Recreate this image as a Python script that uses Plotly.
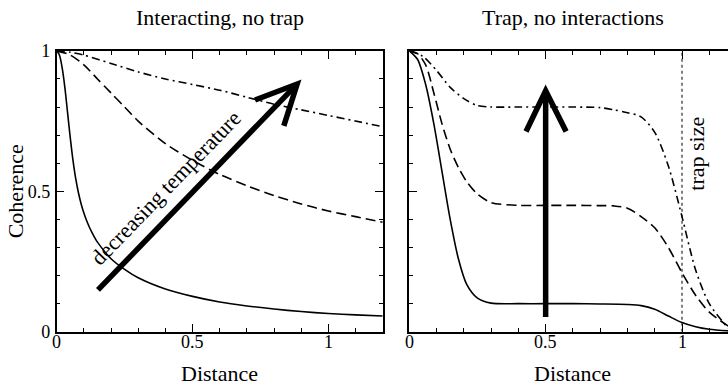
import plotly.graph_objects as go

# ---------------- data ----------------
# Left panel: interacting, no trap
left_solid_x = [0, 0.01, 0.02, 0.03, 0.04, 0.05, 0.06, 0.07, 0.08, 0.09, 0.1, 0.11, 0.12, 0.13, 0.14, 0.15,
                0.2, 0.25, 0.3, 0.4, 0.5, 0.6, 0.7, 0.8, 0.9, 1.0, 1.1, 1.2]
left_solid_y = [1, 0.985, 0.94, 0.87, 0.78, 0.69, 0.61, 0.545, 0.495, 0.455, 0.423, 0.396, 0.373, 0.353, 0.335, 0.319,
                0.26, 0.222, 0.192, 0.152, 0.126, 0.106, 0.092, 0.081, 0.072, 0.065, 0.06, 0.056]
left_dash_x = [0, 0.05, 0.1, 0.15, 0.2, 0.25, 0.3, 0.4, 0.5, 0.6, 0.7, 0.8, 0.9, 1.0, 1.1, 1.2]
left_dash_y = [1, 0.985, 0.95, 0.90, 0.85, 0.80, 0.75, 0.67, 0.61, 0.56, 0.52, 0.485, 0.455, 0.43, 0.41, 0.39]
left_dashdot_x = [0, 0.05, 0.1, 0.2, 0.3, 0.4, 0.5, 0.6, 0.7, 0.8, 0.9, 1.0, 1.1, 1.2]
left_dashdot_y = [1, 0.995, 0.985, 0.955, 0.925, 0.90, 0.88, 0.86, 0.835, 0.81, 0.79, 0.77, 0.75, 0.73]

# Right panel: trap, no interactions
right_solid_x = [0, 0.03, 0.06, 0.09, 0.12, 0.15, 0.18, 0.21, 0.25, 0.3, 0.4, 0.5, 0.6, 0.7, 0.8,
                 0.85, 0.9, 0.95, 1.0, 1.05, 1.1, 1.17]
right_solid_y = [1, 0.97, 0.88, 0.74, 0.57, 0.40, 0.26, 0.17, 0.12, 0.102, 0.1, 0.1, 0.1, 0.099, 0.097,
                 0.093, 0.08, 0.056, 0.033, 0.018, 0.009, 0.003]
right_dash_x = [0, 0.03, 0.06, 0.09, 0.12, 0.15, 0.18, 0.21, 0.25, 0.3, 0.4, 0.5, 0.6, 0.7, 0.75,
                0.8, 0.85, 0.9, 0.95, 1.0, 1.05, 1.1, 1.17]
right_dash_y = [1, 0.99, 0.95, 0.85, 0.74, 0.65, 0.585, 0.535, 0.49, 0.46, 0.45, 0.45, 0.45, 0.449, 0.448,
                0.44, 0.41, 0.37, 0.30, 0.21, 0.13, 0.07, 0.02]
right_dashdot_x = [0, 0.05, 0.1, 0.15, 0.2, 0.25, 0.3, 0.4, 0.5, 0.6, 0.7, 0.75, 0.8, 0.85, 0.9,
                   0.95, 1.0, 1.05, 1.1, 1.17]
right_dashdot_y = [1, 0.98, 0.93, 0.87, 0.83, 0.805, 0.80, 0.80, 0.80, 0.80, 0.798, 0.79, 0.78, 0.765, 0.71,
                   0.59, 0.41, 0.22, 0.10, 0.012]

trap_size = 1.0
x_tick_vals = [0, 0.5, 1]
x_tick_text = ["0", "0.5", "1"]
panel_titles = ["Interacting, no trap", "Trap, no interactions"]
x_title = "Distance"
y_title = "Coherence"

# ---------------- figure ----------------
W, H = 728, 389
FONT = "Liberation Serif"


def pyv(y_target):
    """paper fraction for a wanted vertical pixel position in the photographed page"""
    return 1 - ((y_target - 8) / 0.959) / H


fig = go.Figure()


def add_curve(x, y, dash, xa, ya):
    fig.add_trace(go.Scatter(
        x=x, y=y, mode="lines", xaxis=xa, yaxis=ya,
        line=dict(color="black", width=1.6, dash=dash, shape="spline", smoothing=0.8),
        showlegend=False, hoverinfo="skip"))


DASH = "10px,5px"
DASHDOT = "8px,4px,2px,4px"
add_curve(left_solid_x, left_solid_y, "solid", "x", "y")
add_curve(left_dash_x, left_dash_y, DASH, "x", "y")
add_curve(left_dashdot_x, left_dashdot_y, DASHDOT, "x", "y")
add_curve(right_solid_x, right_solid_y, "solid", "x2", "y2")
add_curve(right_dash_x, right_dash_y, DASH, "x2", "y2")
add_curve(right_dashdot_x, right_dashdot_y, DASHDOT, "x2", "y2")

# geometry (pixels -> paper)
lx0, lx1 = 56.7 / W, 382.7 / W
rx0, rx1 = 409.3 / W, 1.0
yb, yt = pyv(333.3), pyv(49.3)
right_max = (728 - 409.3) / 272.7


def axis_common(show_labels):
    return dict(
        showline=True, linewidth=1.5, linecolor="black",
        ticks="inside", ticklen=8, tickwidth=1, tickcolor="black",
        showgrid=False, zeroline=False, showticklabels=show_labels,
        tickfont=dict(family=FONT, size=18, color="black"),
        tick0=0, dtick=0.5, ticklabelstandoff=1,
        minor=dict(ticks="inside", ticklen=4, tickwidth=1, tickcolor="black",
                   tickmode="linear", tick0=0, dtick=0.1, showgrid=False),
    )


fig.update_layout(
    width=W, height=H,
    margin=dict(l=0, r=0, t=0, b=0),
    paper_bgcolor="white", plot_bgcolor="white",
    font=dict(family=FONT, color="black"),
    xaxis=dict(domain=[lx0, lx1], range=[0, 1.2], anchor="y", mirror="ticks", **axis_common(False)),
    yaxis=dict(domain=[yb, yt], range=[0, 1], anchor="x", mirror="ticks", **axis_common(True)),
    xaxis2=dict(domain=[rx0, rx1], range=[0, right_max], anchor="y2", mirror="ticks", **axis_common(False)),
    yaxis2=dict(domain=[yb, yt], range=[0, 1], anchor="x2", mirror=False, **axis_common(False)),
)

shapes = []
# trap size marker
shapes.append(dict(type="line", xref="x2", yref="y2", x0=trap_size, x1=trap_size, y0=0, y1=1,
                   line=dict(color="black", width=1, dash="dot")))
# left arrow (decreasing temperature)
AW = 5.5
shapes.append(dict(type="line", xref="x", yref="y", x0=0.152, y0=0.149, x1=0.882, y1=0.879,
                   line=dict(color="black", width=AW)))
shapes.append(dict(type="path", xref="x", yref="y",
                   path="M 0.73,0.825 L 0.885,0.882 L 0.836,0.733",
                   line=dict(color="black", width=AW)))
# right arrow
shapes.append(dict(type="line", xref="x2", yref="y2", x0=0.5, y0=0.053, x1=0.5, y1=0.85,
                   line=dict(color="black", width=AW)))
shapes.append(dict(type="path", xref="x2", yref="y2",
                   path="M 0.428,0.713 L 0.5,0.858 L 0.575,0.713",
                   line=dict(color="black", width=AW)))
fig.update_layout(shapes=shapes)

TF = dict(family=FONT, size=22, color="black")
TKF = dict(family=FONT, size=18, color="black")
ann = []
# x tick labels for both panels
for xa in ["x", "x2"]:
    for v, t in zip(x_tick_vals, x_tick_text):
        ann.append(dict(text=t, xref=xa, yref="paper", x=v, y=pyv(344),
                        showarrow=False, font=TKF, xanchor="center", yanchor="middle"))
ann.append(dict(text=panel_titles[0], xref="x", yref="paper", x=0.6, y=1 - 8 / H,
                showarrow=False, font=TF, xanchor="center", yanchor="middle"))
ann.append(dict(text=panel_titles[1], xref="x2", yref="paper", x=0.6, y=1 - 8 / H,
                showarrow=False, font=TF, xanchor="center", yanchor="middle"))
ann.append(dict(text=x_title, xref="x", yref="paper", x=0.6, y=pyv(375),
                showarrow=False, font=TF, xanchor="center", yanchor="middle"))
ann.append(dict(text=x_title, xref="x2", yref="paper", x=0.6, y=pyv(375),
                showarrow=False, font=TF, xanchor="center", yanchor="middle"))
ann.append(dict(text=y_title, xref="paper", yref="y", x=15 / W, y=0.5, textangle=-90,
                showarrow=False, font=TF, xanchor="center", yanchor="middle"))
ann.append(dict(text="decreasing temperature", xref="x", yref="y", x=0.402, y=0.515, textangle=-46,
                showarrow=False, font=TF, xanchor="center", yanchor="middle"))
ann.append(dict(text="trap size", xref="x2", yref="y2", x=1.055, y=0.634, textangle=-90,
                showarrow=False, font=TF, xanchor="center", yanchor="middle"))
fig.update_layout(annotations=ann)

fig.write_html("out.html")
